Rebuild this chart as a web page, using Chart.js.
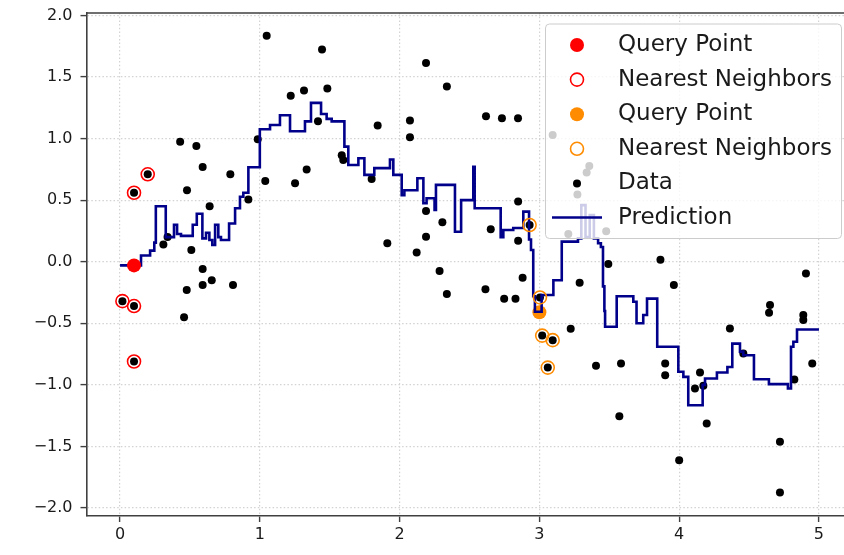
<!DOCTYPE html>
<html>
<head>
<meta charset="utf-8">
<title>k-NN regression</title>
<script src="https://cdn.jsdelivr.net/npm/chart.js@4/dist/chart.umd.min.js"></script>
<style>
  html, body { margin: 0; padding: 0; background: #fff; overflow: hidden; }
  #wrap { width: 870px; height: 555px; }
</style>
</head>
<body>
<div id="wrap"><canvas id="knnChart" width="870" height="555"></canvas></div>
<script>
// training samples
const dataX = [
  0.017, 0.100, 0.100, 0.100, 0.198, 0.310, 0.340, 0.430, 0.458, 0.477,
  0.479, 0.510, 0.546, 0.591, 0.591, 0.591, 0.641, 0.656, 0.789, 0.808,
  0.918, 0.985, 1.039, 1.049, 1.221, 1.252, 1.316, 1.335, 1.416, 1.445,
  1.483, 1.586, 1.597, 1.800, 1.843, 1.912, 2.074, 2.074, 2.122, 2.189,
  2.189, 2.189, 2.286, 2.306, 2.338, 2.338, 2.614, 2.618, 2.652, 2.732,
  2.748, 2.829, 2.847, 2.848, 2.848, 2.880, 2.930, 3.004, 3.020, 3.060,
  3.095, 3.095, 3.207, 3.224, 3.272, 3.288, 3.338, 3.357, 3.405, 3.478,
  3.493, 3.572, 3.584, 3.866, 3.900, 3.900, 3.962, 4.000, 4.113, 4.149,
  4.173, 4.197, 4.363, 4.459, 4.643, 4.650, 4.721, 4.721, 4.824, 4.888,
  4.888, 4.907, 4.952
];
const dataY = [
  -0.320, -0.360, -0.810, 0.560, 0.710, 0.140, 0.200, 0.975, -0.450, -0.230,
  0.580, 0.095, 0.940, 0.770, -0.060, -0.190, 0.450, -0.150, 0.710, -0.190,
  0.505, 0.995, 0.655, 1.835, 1.347, 0.637, 1.390, 0.750, 1.140, 1.724,
  1.407, 0.865, 0.827, 0.672, 1.106, 0.150, 1.146, 1.010, 0.075, 1.613,
  0.413, 0.203, -0.076, 0.320, 1.423, -0.263, -0.224, 1.182, 0.263, 1.166,
  -0.300, -0.300, 1.166, 0.490, 0.170, -0.130, 0.298, -0.290, -0.600, -0.860,
  -0.637, 1.030, 0.225, -0.544, 0.545, -0.170, 0.724, 0.778, -0.845, 0.247,
  -0.019, -1.254, -0.826, 0.017, -0.826, -0.921, -0.190, -1.612, -1.030, -0.900,
  -1.008, -1.314, -0.542, -0.745, -0.414, -0.352, -1.463, -1.875, -0.956, -0.433,
  -0.474, -0.095, -0.826
];

// the two query points and their 5 nearest neighbours
const queryRedX = [0.10];
const queryRedY = [-0.03];
const neighborsRedX = [0.017, 0.100, 0.100, 0.100, 0.198];
const neighborsRedY = [-0.320, -0.360, -0.810, 0.560, 0.710];
const queryOrangeX = [3.00];
const queryOrangeY = [-0.41];
const neighborsOrangeX = [2.930, 3.004, 3.020, 3.060, 3.095];
const neighborsOrangeY = [0.298, -0.290, -0.600, -0.860, -0.637];

// predicted curve: each level holds from its x up to the next x
const predX = [
  0.000, 0.150, 0.215, 0.245, 0.256, 0.327, 0.386, 0.408, 0.436, 0.520,
  0.549, 0.589, 0.615, 0.639, 0.660, 0.680, 0.703, 0.722, 0.780, 0.823,
  0.858, 0.882, 0.918, 1.000, 1.073, 1.144, 1.216, 1.323, 1.366, 1.438,
  1.478, 1.514, 1.605, 1.633, 1.705, 1.748, 1.819, 1.931, 1.955, 2.015,
  2.034, 2.127, 2.170, 2.193, 2.250, 2.260, 2.396, 2.440, 2.527, 2.537,
  2.723, 2.742, 2.813, 2.885, 2.926, 2.940, 2.956, 2.968, 3.016, 3.100,
  3.160, 3.276, 3.300, 3.330, 3.360, 3.390, 3.420, 3.440, 3.455, 3.465,
  3.470, 3.553, 3.672, 3.695, 3.743, 3.770, 3.843, 3.994, 4.030, 4.065,
  4.168, 4.185, 4.270, 4.345, 4.380, 4.435, 4.459, 4.535, 4.642, 4.778,
  4.800, 4.817, 4.843, 5.000
];
const predY = [
  -0.030, 0.050, 0.090, 0.155, 0.450, 0.200, 0.300, 0.225, 0.210, 0.300,
  0.390, 0.190, 0.235, 0.176, 0.136, 0.300, 0.200, 0.176, 0.310, 0.434,
  0.528, 0.560, 0.767, 1.076, 1.110, 1.190, 1.060, 1.140, 1.290, 1.200,
  1.160, 1.140, 0.935, 0.786, 0.840, 0.705, 0.760, 0.830, 0.705, 0.540,
  0.580, 0.678, 0.475, 0.515, 0.420, 0.624, 0.244, 0.500, 0.770, 0.434,
  0.200, 0.258, 0.274, 0.407, 0.180, 0.095, -0.280, -0.406, -0.270, -0.150,
  0.163, 0.190, 0.460, 0.200, 0.380, 0.190, 0.150, 0.120, -0.200, -0.400,
  -0.528, -0.280, -0.325, -0.500, -0.433, -0.300, -0.690, -0.894, -0.935, -1.165,
  -1.000, -0.948, -0.900, -0.855, -0.665, -0.730, -0.760, -0.955, -0.994, -1.030,
  -0.690, -0.650, -0.550, -0.550
];

const xTicks = [0, 1, 2, 3, 4, 5];
const xTickLabels = ['0', '1', '2', '3', '4', '5'];
const yTicks = [-2.0, -1.5, -1.0, -0.5, 0.0, 0.5, 1.0, 1.5, 2.0];
const yTickLabels = ['\u22122.0', '\u22121.5', '\u22121.0', '\u22120.5', '0.0', '0.5', '1.0', '1.5', '2.0'];

const toPoints = (xs, ys) => xs.map((x, i) => ({ x, y: ys[i] }));

const FONT = 'DejaVu Sans';
const TEXT = '#1a1a1a';

// legend drawn inside the plot on a translucent white box
const insideLegend = {
  id: 'insideLegend',
  afterDraw(chart) {
    const ctx = chart.ctx;
    const left = 545.5, top = 24, w = 296, h = 214.5;
    ctx.save();
    ctx.beginPath();
    ctx.roundRect(left, top, w, h, 4);
    ctx.fillStyle = 'rgba(255,255,255,0.8)';
    ctx.fill();
    ctx.lineWidth = 1;
    ctx.strokeStyle = '#cccccc';
    ctx.stroke();

    ctx.font = '23px "' + FONT + '"';
    ctx.textBaseline = 'middle';
    ctx.textAlign = 'left';
    chart.data.datasets.forEach((ds, i) => {
      const cy = 45 + i * 34.6;
      const mx = 577;
      if (ds.showLine === false) {
        ctx.beginPath();
        ctx.arc(mx, cy, ds.pointRadius, 0, Math.PI * 2);
        if (ds.pointBackgroundColor !== 'transparent') {
          ctx.fillStyle = ds.pointBackgroundColor;
          ctx.fill();
        }
        if (ds.pointBorderWidth > 0) {
          ctx.lineWidth = ds.pointBorderWidth;
          ctx.strokeStyle = ds.pointBorderColor;
          ctx.stroke();
        }
      } else {
        ctx.beginPath();
        ctx.moveTo(552, cy - 0.5);
        ctx.lineTo(602, cy - 0.5);
        ctx.lineWidth = ds.borderWidth;
        ctx.strokeStyle = ds.borderColor;
        ctx.stroke();
      }
      ctx.fillStyle = TEXT;
      ctx.fillText(ds.label, 618, cy);
    });
    ctx.restore();
  }
};

// top spine (left/bottom come from the axis borders)
const topSpine = {
  id: 'topSpine',
  afterDatasetsDraw(chart) {
    const { ctx, chartArea } = chart;
    ctx.save();
    ctx.strokeStyle = '#404040';
    ctx.lineWidth = 1.6;
    ctx.beginPath();
    ctx.moveTo(chartArea.left, chartArea.top);
    ctx.lineTo(chartArea.right, chartArea.top);
    ctx.lineTo(chartArea.right, chartArea.bottom);
    ctx.stroke();
    ctx.restore();
  }
};

new Chart(document.getElementById('knnChart'), {
  type: 'line',
  data: {
    datasets: [
      {
        label: 'Query Point',
        data: toPoints(queryRedX, queryRedY),
        showLine: false,
        pointRadius: 7,
        pointBackgroundColor: '#ff0000',
        pointBorderColor: '#ff0000',
        pointBorderWidth: 0,
        order: 1
      },
      {
        label: 'Nearest Neighbors',
        data: toPoints(neighborsRedX, neighborsRedY),
        showLine: false,
        pointRadius: 6.5,
        pointBackgroundColor: 'transparent',
        pointBorderColor: '#ff0000',
        pointBorderWidth: 1.6,
        order: 0
      },
      {
        label: 'Query Point',
        data: toPoints(queryOrangeX, queryOrangeY),
        showLine: false,
        pointRadius: 7,
        pointBackgroundColor: '#ff8c00',
        pointBorderColor: '#ff8c00',
        pointBorderWidth: 0,
        order: 4
      },
      {
        label: 'Nearest Neighbors',
        data: toPoints(neighborsOrangeX, neighborsOrangeY),
        showLine: false,
        pointRadius: 6.5,
        pointBackgroundColor: 'transparent',
        pointBorderColor: '#ff8c00',
        pointBorderWidth: 1.6,
        order: 0
      },
      {
        label: 'Data',
        data: toPoints(dataX, dataY),
        showLine: false,
        pointRadius: 4,
        pointBackgroundColor: '#000000',
        pointBorderColor: '#000000',
        pointBorderWidth: 0,
        order: 5
      },
      {
        label: 'Prediction',
        data: toPoints(predX, predY),
        showLine: true,
        stepped: true,
        borderColor: '#00008b',
        borderWidth: 2.6,
        pointRadius: 0,
        fill: false,
        order: 2
      }
    ]
  },
  options: {
    responsive: false,
    animation: false,
    layout: { padding: { top: 13, right: 17.5, bottom: 0, left: 0 } },
    plugins: {
      legend: { display: false },
      tooltip: { enabled: false }
    },
    scales: {
      x: {
        type: 'linear',
        min: -0.24,
        max: 5.24,
        afterBuildTicks: s => { s.ticks = xTicks.map(v => ({ value: v })); },
        afterFit: s => { s.height = 39; s.paddingLeft = 0; s.paddingRight = 0; },
        ticks: {
          autoSkip: false,
          maxRotation: 0,
          padding: 3,
          color: TEXT,
          font: { family: FONT, size: 16 },
          callback: (v, i) => xTickLabels[i]
        },
        grid: {
          color: '#d3d3d3',
          lineWidth: 1.2,
          tickLength: 6,
          tickColor: '#404040',
          tickWidth: 1.4
        },
        border: { color: '#404040', width: 1.6, dash: [1.5, 2.2] }
      },
      y: {
        type: 'linear',
        min: -2.065,
        max: 2.02,
        afterBuildTicks: s => { s.ticks = yTicks.map(v => ({ value: v })); },
        afterFit: s => { s.width = 86.5; s.paddingTop = 0; s.paddingBottom = 0; },
        ticks: {
          padding: 8,
          color: TEXT,
          font: { family: FONT, size: 16 },
          callback: (v, i) => yTickLabels[i]
        },
        grid: {
          color: '#d3d3d3',
          lineWidth: 1.2,
          tickLength: 6,
          tickColor: '#404040',
          tickWidth: 1.4
        },
        border: { color: '#404040', width: 1.6, dash: [1.5, 2.2] }
      }
    }
  },
  plugins: [topSpine, insideLegend]
});
</script>
</body>
</html>
